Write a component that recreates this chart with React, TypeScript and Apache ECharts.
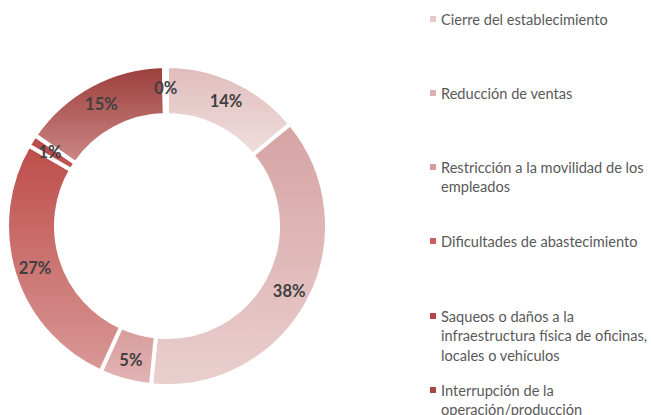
import React, { useEffect, useRef } from "react";
import * as echarts from "echarts";

const categories = [
  "Cierre del establecimiento",
  "Reducción de ventas",
  "Restricción a la movilidad de los\nempleados",
  "Dificultades de abastecimiento",
  "Saqueos o daños a la\ninfraestructura física de oficinas,\nlocales o vehículos",
  "Interrupción de la\noperación/producción",
  "Otro",
];
const values = [14.0, 37.6, 5.2, 26.6, 1.2, 15.1, 0.3];
const legendCount = 6;
const gradients: [string, string][] = [
  ["#e0bcbc", "#f0dede"],
  ["#d6a3a3", "#eacfcf"],
  ["#d89c9c", "#e3b5b5"],
  ["#bd4d4a", "#d99896"],
  ["#b94a48", "#be5452"],
  ["#9b3e3c", "#cc8886"],
  ["#8f3634", "#8f3634"],
];
const legendColors = ["#e6caca", "#dcb0b0", "#d99a9a", "#c85f5d", "#b44846", "#a84644"];

export default function App() {
  const ref = useRef<HTMLDivElement>(null);
  useEffect(() => {
    const chart = echarts.init(ref.current!, undefined, { renderer: "svg" });
    const lineH = 19.5;
    const firstLineY = [19, 93, 167, 241, 316, 390];
    const graphics: any[] = [];
    categories.slice(0, legendCount).forEach((name, i) => {
      const y = firstLineY[i];
      graphics.push({
        type: "rect",
        shape: { x: 430, y: y - 3, width: 6, height: 6 },
        style: { fill: legendColors[i] },
        silent: true,
      });
      graphics.push({
        type: "text",
        x: 441,
        y: y - lineH / 2,
        style: {
          text: name,
          fill: "#595959",
          fontFamily: "Lato",
          fontSize: 14.6,
          lineHeight: lineH,
          verticalAlign: "top",
          align: "left",
        },
        silent: true,
      });
    });
    chart.setOption({
      animation: false,
      backgroundColor: "#ffffff",
      graphic: graphics,
      series: [
        {
          type: "pie",
          center: [167, 226],
          radius: [111, 160],
          startAngle: 90,
          clockwise: true,
          avoidLabelOverlap: false,
          label: {
            show: true,
            position: "inside",
            formatter: (p: any) => Math.round(p.value) + "%",
            color: "#404040",
            fontFamily: "Lato",
            fontWeight: "bold",
            fontSize: 16.5,
          },
          labelLine: { show: false },
          emphasis: { disabled: true },
          itemStyle: { borderColor: "#ffffff", borderWidth: 4 },
          data: categories.map((name, i) => ({
            name,
            value: values[i],
            itemStyle: {
              color: new echarts.graphic.LinearGradient(0, 0, 0, 1, [
                { offset: 0, color: gradients[i][0] },
                { offset: 1, color: gradients[i][1] },
              ]),
            },
          })),
        },
      ],
    });
    return () => chart.dispose();
  }, []);
  return (
    <div
      ref={ref}
      style={{ position: "fixed", left: 0, top: 0, width: 651, height: 415 }}
    />
  );
}
